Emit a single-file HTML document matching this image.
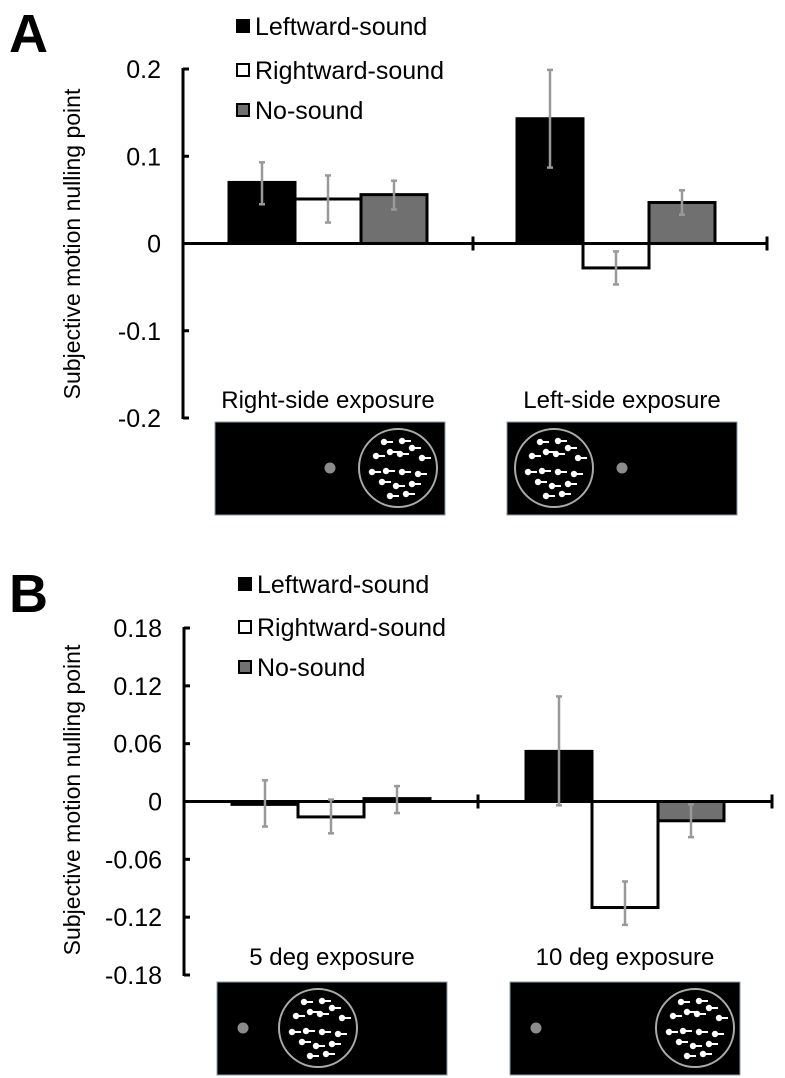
<!DOCTYPE html>
<html><head><meta charset="utf-8">
<style>
html,body{margin:0;padding:0;background:#fff;}
svg{display:block;font-family:"Liberation Sans",Arial,sans-serif;}
</style></head>
<body>
<svg id="fig" width="785" height="1078" viewBox="0 0 785 1078"></svg>
<script>
// Panel A data
const groupsA = ["Right-side exposure", "Left-side exposure"];
const seriesNames = ["Leftward-sound", "Rightward-sound", "No-sound"];
const valsA_left = [0.070, 0.143];
const valsA_right = [0.051, -0.028];
const valsA_none = [0.056, 0.047];
const errLoA_left = [0.045, 0.087];
const errHiA_left = [0.093, 0.199];
const errLoA_right = [0.024, -0.047];
const errHiA_right = [0.078, -0.009];
const errLoA_none = [0.039, 0.033];
const errHiA_none = [0.072, 0.061];
const ticksA = [0.2, 0.1, 0, -0.1, -0.2];
const tickLabelsA = ["0.2", "0.1", "0", "-0.1", "-0.2"];
// Panel B data
const groupsB = ["5 deg exposure", "10 deg exposure"];
const valsB_left = [-0.003, 0.052];
const valsB_right = [-0.016, -0.110];
const valsB_none = [0.003, -0.020];
const errLoB_left = [-0.026, -0.004];
const errHiB_left = [0.022, 0.109];
const errLoB_right = [-0.033, -0.128];
const errHiB_right = [0.002, -0.083];
const errLoB_none = [-0.012, -0.037];
const errHiB_none = [0.016, -0.003];
const ticksB = [0.18, 0.12, 0.06, 0, -0.06, -0.12, -0.18];
const tickLabelsB = ["0.18", "0.12", "0.06", "0", "-0.06", "-0.12", "-0.18"];

const NS = "http://www.w3.org/2000/svg";
const svg = document.getElementById("fig");
function mk(tag, attrs, parent) {
  const e = document.createElementNS(NS, tag);
  for (const k in attrs) e.setAttribute(k, attrs[k]);
  (parent || svg).appendChild(e);
  return e;
}
const fills = ["#000", "#fff", "#707070"];

function panel(cfg) {
  const g = mk("g", {});
  
  
  const y = v => cfg.y0 + (v - cfg.vmax) / (cfg.vmin - cfg.vmax) * (cfg.y1 - cfg.y0);
  const L = mk("text", {x: 9, y: cfg.letterY, "font-size": 54, "font-weight": "bold"}, g);
  L.textContent = cfg.letter;
  
  
  for (let i = 0; i < 3; i++) {
    const ly = cfg.legY[i];
    const r = mk("rect", {x: cfg.legX, y: ly - 6, width: 12, height: 12, fill: fills[i], stroke: "#000", "stroke-width": 2}, g);
    
    
    const t = mk("text", {x: cfg.legX + 18, y: ly + 9, "font-size": 25}, g);
    t.textContent = seriesNames[i];
    
    
  }
  const ax = mk("line", {x1: cfg.ax, y1: y(cfg.vmax) - 1, x2: cfg.ax, y2: y(cfg.vmin) + 1, stroke: "#000", "stroke-width": 3}, g);
  
  
  cfg.ticks.forEach((v, i) => {
    const ty = y(v);
    const tk = mk("line", {x1: cfg.ax, y1: ty, x2: cfg.ax + 6, y2: ty, stroke: "#000", "stroke-width": 3}, g);
    
    
    const tl = mk("text", {x: cfg.ax - 22, y: ty + 9, "font-size": 25, "text-anchor": "end"}, g);
    tl.textContent = cfg.tickLabels[i];
    
    
  });
  const yt = mk("text", {x: 0, y: 0, "font-size": 23, "text-anchor": "middle", transform: `translate(${cfg.titleX},${cfg.titleY}) rotate(-90)`}, g);
  yt.textContent = "Subjective motion nulling point";
  
  
  const sv = [cfg.vL, cfg.vR, cfg.vN], lo = [cfg.loL, cfg.loR, cfg.loN], hi = [cfg.hiL, cfg.hiR, cfg.hiN];
  for (let gi = 0; gi < 2; gi++) {
    for (let s = 0; s < 3; s++) {
      const x0 = cfg.gx[gi] + s * cfg.bw;
      const v = sv[s][gi];
      const top = Math.min(y(v), y(0)), h = Math.max(Math.abs(y(v) - y(0)), 1);
      const b = mk("rect", {x: x0, y: top, width: cfg.bw, height: h, fill: fills[s], stroke: "#000", "stroke-width": 3}, g);
      
      
    }
  }
  const xa = mk("line", {x1: cfg.ax, y1: y(0), x2: cfg.xend, y2: y(0), stroke: "#000", "stroke-width": 3}, g);
  
  
  [cfg.div, cfg.xend].forEach(xx => {
    const t = mk("line", {x1: xx, y1: y(0) - 7, x2: xx, y2: y(0) + 7, stroke: "#000", "stroke-width": 3}, g);
    
    
  });
  for (let gi = 0; gi < 2; gi++) {
    for (let s = 0; s < 3; s++) {
      const cx = cfg.gx[gi] + s * cfg.bw + cfg.bw / 2;
      const e = mk("g", {stroke: "#999", "stroke-width": 2.5}, g);
      
      
      mk("line", {x1: cx, y1: y(hi[s][gi]), x2: cx, y2: y(lo[s][gi])}, e);
      mk("line", {x1: cx - 3, y1: y(hi[s][gi]), x2: cx + 3, y2: y(hi[s][gi])}, e);
      mk("line", {x1: cx - 3, y1: y(lo[s][gi]), x2: cx + 3, y2: y(lo[s][gi])}, e);
    }
  }
  for (let gi = 0; gi < 2; gi++) {
    const t = mk("text", {x: cfg.glx[gi], y: cfg.glY, "font-size": 24, "text-anchor": "middle"}, g);
    t.textContent = cfg.groups[gi];
    
    
    const st = cfg.stim[gi];
    const sg = mk("g", {}, g);
    
    
    mk("rect", {x: st.x, y: cfg.sy, width: 230, height: 93, fill: "#000", stroke: "#8a9ab0", "stroke-width": 1}, sg);
    mk("circle", {cx: st.dot, cy: cfg.sy + 46, r: 5.5, fill: "#8c8c8c"}, sg);
    mk("circle", {cx: st.c, cy: cfg.sy + 46, r: 39, fill: "#000", stroke: "#aaa", "stroke-width": 2}, sg);
    const pts = [[-14,-26],[4,-27],[14,-20],[-22,-12],[-8,-16],[2,-14],[24,-10],[-26,4],[-12,3],[4,4],[20,6],[-16,14],[-2,18],[14,16],[-8,28],[8,26]];
    pts.forEach(p => {
      mk("circle", {cx: st.c + p[0], cy: cfg.sy + 46 + p[1], r: 3.2, fill: "#fff"}, sg);
      mk("line", {x1: st.c + p[0], y1: cfg.sy + 46 + p[1], x2: st.c + p[0] + 9, y2: cfg.sy + 46 + p[1], stroke: "#fff", "stroke-width": 2}, sg);
    });
  }
}

panel({name: "panel-a", letter: "A", letterY: 52, legX: 237, legY: [26, 70, 110],
  ax: 183, y0: 69, y1: 418, vmax: 0.2, vmin: -0.2, ticks: ticksA, tickLabels: tickLabelsA,
  titleX: 80, titleY: 244, gx: [229, 517], bw: 66, div: 473, xend: 767,
  vL: valsA_left, vR: valsA_right, vN: valsA_none, loL: errLoA_left, hiL: errHiA_left,
  loR: errLoA_right, hiR: errHiA_right, loN: errLoA_none, hiN: errHiA_none,
  groups: groupsA, glx: [328, 622], glY: 408, sy: 422,
  stim: [{x: 215, c: 398, dot: 330}, {x: 507, c: 554, dot: 622}]});

panel({name: "panel-b", letter: "B", letterY: 612, legX: 239, legY: [584, 627, 667],
  ax: 184, y0: 628, y1: 975, vmax: 0.18, vmin: -0.18, ticks: ticksB, tickLabels: tickLabelsB,
  titleX: 80, titleY: 800, gx: [232, 526], bw: 66, div: 478, xend: 772,
  vL: valsB_left, vR: valsB_right, vN: valsB_none, loL: errLoB_left, hiL: errHiB_left,
  loR: errLoB_right, hiR: errHiB_right, loN: errLoB_none, hiN: errHiB_none,
  groups: groupsB, glx: [332, 625], glY: 965, sy: 982,
  stim: [{x: 217, c: 318, dot: 243}, {x: 510, c: 695, dot: 536}]});
</script>
</body></html>
